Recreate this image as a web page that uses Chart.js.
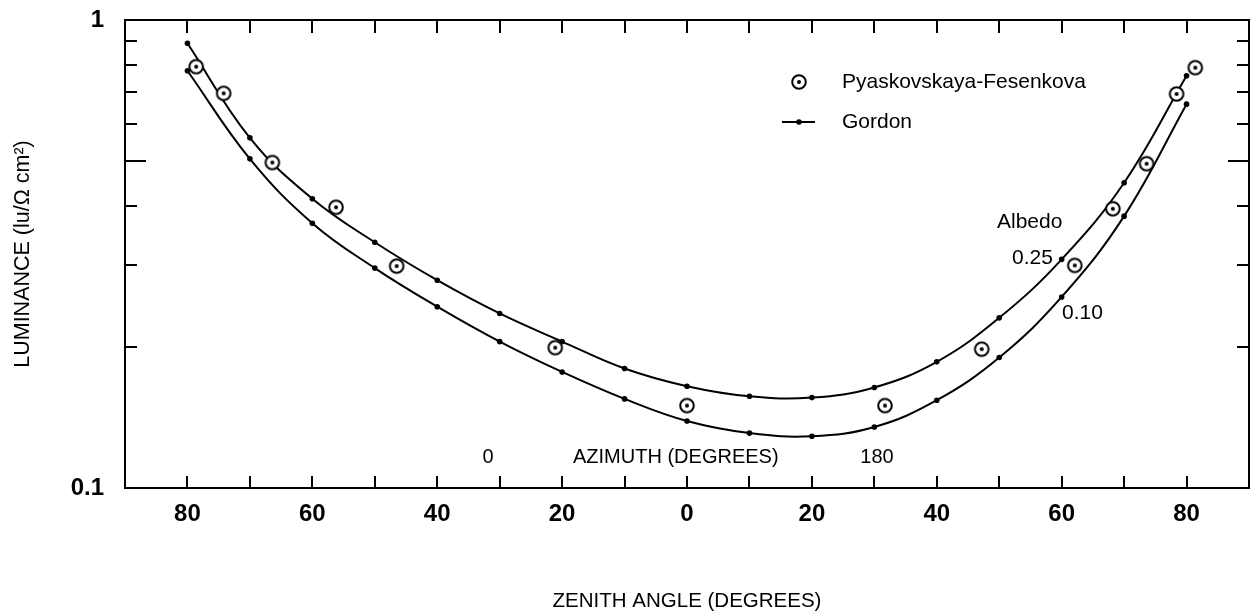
<!DOCTYPE html>
<html>
<head>
<meta charset="utf-8">
<script src="https://cdn.jsdelivr.net/npm/chart.js@4/dist/chart.umd.min.js"></script>
<style>
  html, body { margin: 0; padding: 0; background: #fff; }
  #wrap { width: 1252px; height: 612px; }
</style>
</head>
<body>
<div id="wrap"><canvas id="chart" width="1252" height="612"></canvas></div>
<script>
"use strict";
// zenith angle: negative = azimuth 0 side, positive = azimuth 180 side
var zenithAngles = [-80, -70, -60, -50, -40, -30, -20, -10, 0, 10, 20, 30, 40, 50, 60, 70, 80];
var gordonAlbedo025 = [0.892, 0.560, 0.415, 0.335, 0.278, 0.236, 0.2055, 0.180, 0.165, 0.157, 0.156, 0.164, 0.186, 0.231, 0.308, 0.449, 0.760];
var gordonAlbedo010 = [0.779, 0.505, 0.368, 0.295, 0.244, 0.2055, 0.177, 0.155, 0.139, 0.131, 0.129, 0.135, 0.154, 0.190, 0.256, 0.381, 0.661];

var pfAngles = [-78.6, -74.2, -66.4, -56.2, -46.5, -21.1, 0, 31.7, 47.2, 62.1, 68.2, 73.6, 78.4, 81.4];
var pfLuminance = [0.795, 0.697, 0.496, 0.398, 0.298, 0.1995, 0.150, 0.150, 0.198, 0.299, 0.395, 0.493, 0.695, 0.791];

var xTickLabels = [-80, -60, -40, -20, 0, 20, 40, 60, 80];
var xTickMarks = [-80, -70, -60, -50, -40, -30, -20, -10, 0, 10, 20, 30, 40, 50, 60, 70, 80];
var yTickLabels = [0.1, 1];
var yTickMarks = [0.2, 0.3, 0.4, 0.5, 0.6, 0.7, 0.8, 0.9];

var FONT = "'Liberation Sans', Arial, sans-serif";

function circleDot(size) {
    var c = document.createElement("canvas");
    c.width = size; c.height = size;
    var g = c.getContext("2d");
    g.beginPath();
    g.arc(size / 2, size / 2, size / 2 - 2.2, 0, Math.PI * 2);
    g.fillStyle = "#fff";
    g.fill();
    g.lineWidth = 2;
    g.strokeStyle = "#000";
    g.stroke();
    g.beginPath();
    g.arc(size / 2, size / 2, 2, 0, Math.PI * 2);
    g.fillStyle = "#000";
    g.fill();
    return c;
}
var pfMarker = circleDot(18);

function pairs(xs, ys) {
    return xs.map(function(x, i) { return {x: x, y: ys[i]}; });
}

var frame = {
    id: "frame",
    afterDraw: function(chart) {
        var ctx = chart.ctx, a = chart.chartArea;
        var xs = chart.scales.x, ys = chart.scales.y;
        ctx.save();
        ctx.strokeStyle = "#000";
        ctx.lineWidth = 2;
        ctx.strokeRect(a.left, a.top, a.right - a.left, a.bottom - a.top);
        ctx.beginPath();
        xTickMarks.forEach(function(v) {
            var px = Math.round(xs.getPixelForValue(v));
            ctx.moveTo(px, a.bottom); ctx.lineTo(px, a.bottom - 12);
            ctx.moveTo(px, a.top); ctx.lineTo(px, a.top + 13);
        });
        yTickMarks.forEach(function(v) {
            var py = Math.round(ys.getPixelForValue(v));
            var len = v === 0.5 ? 21 : 12;
            ctx.moveTo(a.left, py); ctx.lineTo(a.left + len, py);
            ctx.moveTo(a.right, py); ctx.lineTo(a.right - len, py);
        });
        ctx.stroke();

        // legend
        ctx.drawImage(pfMarker, 799 - 9, 82 - 9);
        ctx.beginPath();
        ctx.moveTo(782, 122); ctx.lineTo(815, 122);
        ctx.stroke();
        ctx.beginPath();
        ctx.arc(799, 122, 2.8, 0, Math.PI * 2);
        ctx.fillStyle = "#000";
        ctx.fill();

        ctx.fillStyle = "#000";
        ctx.textBaseline = "middle";
        ctx.font = "21px " + FONT;
        ctx.textAlign = "left";
        ctx.fillText("Pyaskovskaya-Fesenkova", 842, 82);
        ctx.fillText("Gordon", 842, 122);
        ctx.fillText("Albedo", 997, 222);
        ctx.fillText("0.25", 1012, 258);
        ctx.fillText("0.10", 1062, 313);
        ctx.font = "20px " + FONT;
        ctx.fillText("AZIMUTH (DEGREES)", 573, 457);
        ctx.textAlign = "center";
        ctx.fillText("0", 488, 457);
        ctx.fillText("180", 877, 457);
        ctx.restore();
    }
};

new Chart(document.getElementById("chart").getContext("2d"), {
    data: {
        datasets: [{
            type: "scatter",
            label: "Pyaskovskaya-Fesenkova",
            data: pairs(pfAngles, pfLuminance),
            pointStyle: pfMarker,
            pointRadius: 9
        }, {
            type: "line",
            label: "Gordon 0.25",
            data: pairs(zenithAngles, gordonAlbedo025),
            borderColor: "#000",
            borderWidth: 2,
            pointRadius: 2.8,
            pointBackgroundColor: "#000",
            pointBorderWidth: 0,
            tension: 0.4,
            fill: false
        }, {
            type: "line",
            label: "Gordon 0.10",
            data: pairs(zenithAngles, gordonAlbedo010),
            borderColor: "#000",
            borderWidth: 2,
            pointRadius: 2.8,
            pointBackgroundColor: "#000",
            pointBorderWidth: 0,
            tension: 0.4,
            fill: false
        }]
    },
    options: {
        responsive: false,
        animation: false,
        devicePixelRatio: 1,
        layout: {autoPadding: false, padding: {top: 20, right: 3, left: 0, bottom: 0}},
        plugins: {legend: {display: false}, tooltip: {enabled: false}},
        scales: {
            x: {
                type: "linear",
                min: -90,
                max: 90,
                grid: {display: false, drawTicks: false},
                border: {display: false},
                afterBuildTicks: function(s) {
                    s.ticks = xTickLabels.map(function(v) { return {value: v}; });
                },
                afterFit: function(s) {
                    s.height = 124;
                    s.paddingLeft = 0;
                    s.paddingRight = 0;
                },
                ticks: {
                    autoSkip: false,
                    maxRotation: 0,
                    padding: 12,
                    color: "#000",
                    font: {family: FONT, size: 24, weight: "bold"},
                    callback: function(v) { return String(Math.abs(v)); }
                },
                title: {
                    display: true,
                    text: "ZENITH ANGLE (DEGREES)",
                    color: "#000",
                    padding: 0,
                    font: {family: FONT, size: 20.5, lineHeight: 1}
                }
            },
            y: {
                type: "logarithmic",
                min: 0.1,
                max: 1,
                grid: {display: false, drawTicks: false},
                border: {display: false},
                afterBuildTicks: function(s) {
                    s.ticks = yTickLabels.map(function(v) { return {value: v}; });
                },
                afterFit: function(s) {
                    s.width = 125;
                    s.paddingTop = 0;
                    s.paddingBottom = 0;
                },
                ticks: {
                    autoSkip: false,
                    padding: 21,
                    color: "#000",
                    font: {family: FONT, size: 24, weight: "bold"},
                    callback: function(v) { return String(v); }
                },
                title: {
                    display: true,
                    text: "LUMINANCE (lu/\u03a9 cm\u00b2)",
                    color: "#000",
                    padding: {top: 10, bottom: 0},
                    font: {family: FONT, size: 21.5}
                }
            }
        }
    },
    plugins: [frame]
});
</script>
</body>
</html>
